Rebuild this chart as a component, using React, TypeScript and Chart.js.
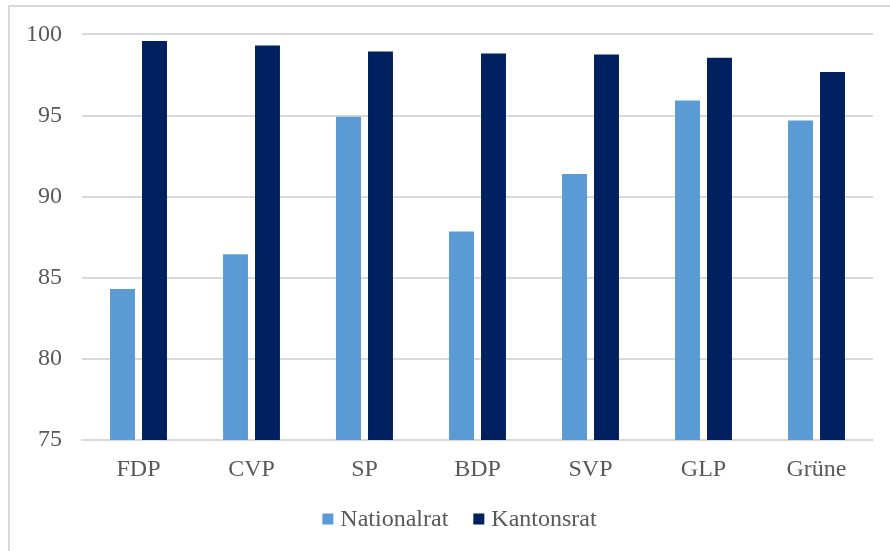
import React, { useEffect, useRef } from "react";
import { Chart, registerables } from "chart.js";

Chart.register(...registerables);

const categories = ["FDP", "CVP", "SP", "BDP", "SVP", "GLP", "Grüne"];
const nationalrat = [84.3, 86.45, 94.93, 87.85, 91.4, 95.92, 94.7];
const kantonsrat = [99.6, 99.32, 98.95, 98.82, 98.76, 98.56, 97.69];
const seriesNames = ["Nationalrat", "Kantonsrat"];
const seriesColors = ["#5B9BD5", "#002060"];
const yTicks = [75, 80, 85, 90, 95, 100];

const FONT = "'Liberation Serif', 'Times New Roman', serif";
const TEXT = "#595959";
const GRID = "#D9D9D9";

const legendPlugin = {
  id: "customLegend",
  afterDraw(chart: any) {
    const ctx = chart.ctx;
    const ds = chart.data.datasets;
    const box = 11;
    const gap = 7;
    const spacing = 25;
    ctx.save();
    ctx.font = `24px ${FONT}`;
    const widths = ds.map((d: any) => box + gap + ctx.measureText(d.label).width);
    const total = widths.reduce((a: number, b: number) => a + b, 0) + spacing * (ds.length - 1);
    const cx = 459.5;
    const cy = 519;
    let x = cx - total / 2;
    ctx.textBaseline = "middle";
    ctx.textAlign = "left";
    ds.forEach((d: any, i: number) => {
      ctx.fillStyle = d.backgroundColor;
      ctx.fillRect(x, cy - box / 2, box, box);
      ctx.fillStyle = TEXT;
      ctx.fillText(d.label, x + box + gap, cy + 1);
      x += widths[i] + spacing;
    });
    ctx.restore();
  },
};

export default function App() {
  const ref = useRef<HTMLCanvasElement | null>(null);
  useEffect(() => {
    if (!ref.current) return;
    const chart = new Chart(ref.current, {
      type: "bar",
      data: {
        labels: categories,
        datasets: [
          {
            label: seriesNames[0],
            data: nationalrat,
            backgroundColor: seriesColors[0],
            categoryPercentage: 0.566,
            barPercentage: 0.78,
          },
          {
            label: seriesNames[1],
            data: kantonsrat,
            backgroundColor: seriesColors[1],
            categoryPercentage: 0.566,
            barPercentage: 0.78,
          },
        ],
      },
      plugins: [legendPlugin],
      options: {
        responsive: false,
        animation: false,
        layout: { padding: { top: 30.5, right: 17, bottom: 57, left: 0 } },
        plugins: {
          tooltip: { enabled: false },
          legend: { display: false },
        },
        scales: {
          x: {
            grid: { display: false, drawTicks: false },
            border: { display: true, color: GRID, width: 2 },
            ticks: { color: TEXT, font: { family: FONT, size: 24 }, padding: 15 },
            afterFit: (s: any) => {
              s.height = 54;
            },
          },
          y: {
            min: 75,
            max: 100,
            afterBuildTicks: (s: any) => {
              s.ticks = yTicks.map((v) => ({ value: v }));
            },
            grid: { color: GRID, lineWidth: 2, drawTicks: false },
            border: { display: false },
            ticks: { color: TEXT, font: { family: FONT, size: 24 }, padding: 20 },
            afterFit: (s: any) => {
              s.width = 82;
            },
          },
        },
      },
    });
    return () => chart.destroy();
  }, []);
  return (
    <div style={{ position: "fixed", left: 0, top: 0, width: 890, height: 551, overflow: "hidden", background: "#fff" }}>
      <div
        style={{
          position: "absolute",
          left: 8,
          top: 5,
          width: 960,
          height: 640,
          border: `2px solid ${GRID}`,
        }}
      />
      <canvas ref={ref} width={890} height={551} style={{ position: "absolute", left: 0, top: 0 }} />
    </div>
  );
}
